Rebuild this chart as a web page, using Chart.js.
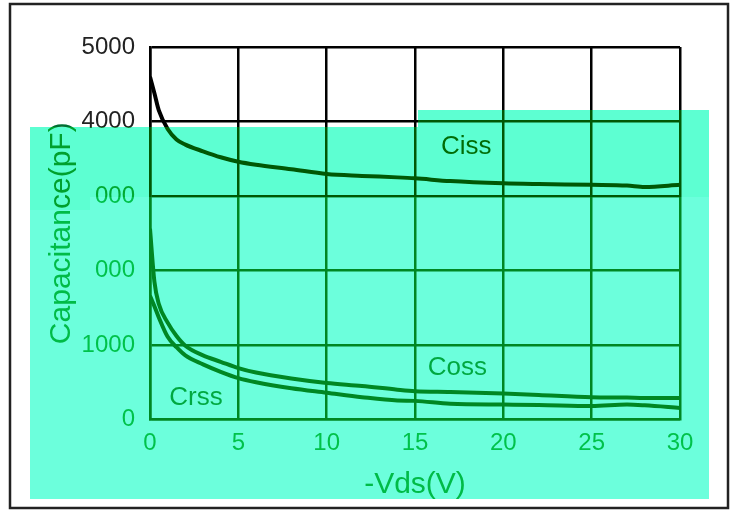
<!DOCTYPE html>
<html>
<head>
<meta charset="utf-8">
<script src="https://cdn.jsdelivr.net/npm/chart.js@4"></script>
<style>
    html, body { margin: 0; padding: 0; background: #fff; }
    #wrap { width: 736px; height: 510px; }
</style>
</head>
<body>
<div id="wrap"><canvas id="myChart" width="736" height="510"></canvas></div>
<script>
// -Vds (V) sample points shared by the three curves
const VDS = [0, 0.25, 0.5, 1, 1.5, 2, 3, 4, 5, 6, 8, 10, 12, 14, 15, 17, 20, 22, 25, 27, 28, 30];
const CISS = [4600, 4380, 4150, 3900, 3760, 3690, 3600, 3520, 3460, 3420, 3360, 3295, 3270, 3250, 3237, 3200, 3170, 3160, 3150, 3140, 3120, 3150];
const COSS = [2560, 1850, 1550, 1300, 1120, 990, 860, 775, 690, 630, 550, 490, 450, 400, 380, 370, 350, 330, 300, 295, 290, 290];
const CRSS = [1660, 1520, 1370, 1110, 970, 860, 740, 640, 555, 500, 420, 360, 300, 255, 250, 210, 200, 195, 180, 200, 190, 155];

const Y_TICK_LABELS = ['0', '1000', '000', '000', '4000', '5000'];
const X_TICKS = [0, 5, 10, 15, 20, 25, 30];

// curve name labels: [text, x, y]
const CURVE_LABELS = [['Ciss', 17.9, 3660], ['Coss', 17.4, 700], ['Crss', 2.6, 285]];

const FONT = "'Liberation Sans', Arial, sans-serif";
const GREEN_TEXT = 'rgb(0,110,50)';
const GREEN_TICK = 'rgb(0,125,55)';

function toPoints(ys) {
    return ys.map((y, i) => ({ x: VDS[i], y: y }));
}

// tinted bands over the picture (screen colour, multiply colour, rects)
const BANDS = [
    { screen: 'rgb(0,88,5)', multiply: 'rgb(93,255,210)',
      rects: [[30, 127, 388, 70], [30, 197, 60, 13], [418, 110, 291, 87]] },
    { screen: 'rgb(0,135,40)', multiply: 'rgb(108,255,220)',
      rects: [[90, 197, 619, 302], [30, 210, 60, 289]] }
];

const pagePlugin = {
    id: 'page',
    beforeDraw(chart) {
        const c = chart.ctx;
        c.save();
        c.fillStyle = '#fff';
        c.fillRect(0, 0, chart.width, chart.height);
        c.restore();
    },
    afterDatasetsDraw(chart) {
        const c = chart.ctx;
        const xs = chart.scales.x, ys = chart.scales.y;
        c.save();
        c.font = '26px ' + FONT;
        c.textAlign = 'center';
        c.textBaseline = 'middle';
        CURVE_LABELS.forEach(([t, x, y]) => {
            c.fillStyle = t === 'Ciss' ? 'rgb(0,30,0)' : 'rgb(0,70,40)';
            c.fillText(t, xs.getPixelForValue(x), ys.getPixelForValue(y));
        });
        c.restore();
    },
    afterDraw(chart) {
        const c = chart.ctx;
        c.save();
        BANDS.forEach(b => {
            c.beginPath();
            b.rects.forEach(r => c.rect(r[0], r[1], r[2], r[3]));
            c.globalCompositeOperation = 'screen';
            c.fillStyle = b.screen;
            c.fill();
            c.globalCompositeOperation = 'multiply';
            c.fillStyle = b.multiply;
            c.fill();
        });
        c.globalCompositeOperation = 'source-over';
        c.strokeStyle = '#222';
        c.lineWidth = 2.5;
        c.strokeRect(10, 4, 718, 504);
        c.restore();
    }
};

function makeSet(label, data) {
    return {
        label: label,
        data: toPoints(data),
        borderColor: '#000',
        borderWidth: 4,
        pointRadius: 0,
        fill: false,
        cubicInterpolationMode: 'monotone'
    };
}

const ctx = document.getElementById('myChart');
new Chart(ctx, {
    type: 'line',
    data: {
        datasets: [makeSet('Ciss', CISS), makeSet('Coss', COSS), makeSet('Crss', CRSS)]
    },
    options: {
        responsive: false,
        animation: false,
        layout: { padding: { top: 47, right: 56, left: 0, bottom: 0 } },
        plugins: { legend: { display: false }, tooltip: { enabled: false } },
        scales: {
            x: {
                type: 'linear',
                min: 0,
                max: 30,
                afterBuildTicks: s => { s.ticks = X_TICKS.map(v => ({ value: v })); },
                afterFit: s => { s.height = 90.5; },
                grid: { color: '#000', lineWidth: 2.5, drawTicks: false },
                border: { color: '#000', width: 2.5 },
                ticks: { color: GREEN_TICK, padding: 9, font: { family: FONT, size: 24 }, maxRotation: 0 },
                title: { display: true, text: '-Vds(V)', color: GREEN_TEXT, font: { family: FONT, size: 30 }, padding: { top: 0, bottom: 7 } }
            },
            y: {
                min: 0,
                max: 5000,
                ticks: {
                    stepSize: 1000,
                    padding: 15,
                    font: { family: FONT, size: 24 },
                    color: c => (c.index >= 4 ? '#222' : GREEN_TICK),
                    callback: (v, i) => Y_TICK_LABELS[i]
                },
                afterFit: s => { s.width = 150; },
                grid: { color: '#000', lineWidth: 2.5, drawTicks: false },
                border: { color: '#000', width: 2.5 },
                title: { display: true, text: 'Capacitance(pF)', color: GREEN_TEXT, font: { family: FONT, size: 30 }, padding: { top: 44, bottom: 0 } }
            }
        }
    },
    plugins: [pagePlugin]
});
</script>
</body>
</html>
